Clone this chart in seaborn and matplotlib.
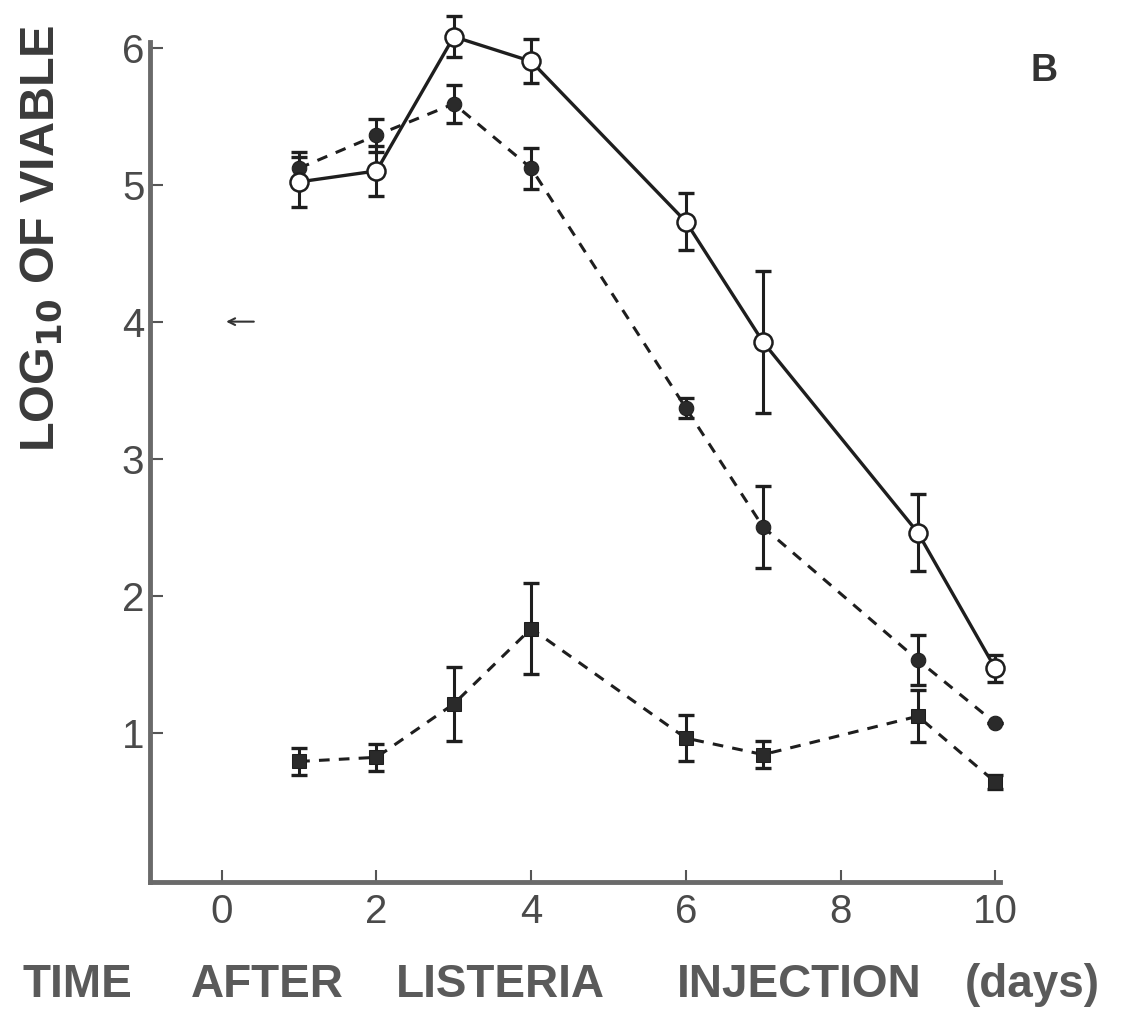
import matplotlib
matplotlib.use("Agg")
import matplotlib.pyplot as plt
import seaborn as sns
import pandas as pd
import numpy as np

days = [1, 2, 3, 4, 6, 7, 9, 10]
open_vals = [5.02, 5.10, 6.08, 5.90, 4.73, 3.85, 2.46, 1.47]
open_err = [0.18, 0.18, 0.15, 0.16, 0.21, 0.52, 0.28, 0.10]
filled_vals = [5.12, 5.36, 5.59, 5.12, 3.37, 2.50, 1.53, 1.07]
filled_err = [0.12, 0.12, 0.14, 0.15, 0.07, 0.30, 0.18, 0.0]
square_vals = [0.79, 0.82, 1.21, 1.76, 0.96, 0.84, 1.12, 0.64]
square_err = [0.10, 0.10, 0.27, 0.33, 0.17, 0.10, 0.19, 0.05]

xticks = [0, 2, 4, 6, 8, 10]
yticks = [1, 2, 3, 4, 5, 6]

sns.set_theme(style="white")
plt.rcParams['font.family'] = ['Liberation Sans', 'DejaVu Sans']

fig = plt.figure(figsize=(11.44, 10.18), dpi=100)
ax = fig.add_axes([0.131, 0.1336, 0.743, 0.825])

df = pd.DataFrame({"day": days, "open": open_vals, "filled": filled_vals, "square": square_vals})
ink = "#1e1e1e"

# error bars
for vals, errs in [(open_vals, open_err), (filled_vals, filled_err), (square_vals, square_err)]:
    eb = ax.errorbar(days, vals, yerr=errs, fmt="none", ecolor=ink, elinewidth=2.2,
                     capsize=6, capthick=2.4, zorder=2)
    for art in eb.lines[1]:
        art.set_clip_on(False)
    for art in eb.lines[2]:
        art.set_clip_on(False)

sns.lineplot(data=df, x="day", y="open", ax=ax, color=ink, linewidth=2.4,
             marker="o", markersize=13, markerfacecolor="white",
             markeredgecolor=ink, markeredgewidth=1.8, zorder=4, clip_on=False)
sns.lineplot(data=df, x="day", y="filled", ax=ax, color=ink, linewidth=2.2,
             linestyle=(0, (3.5, 3)), marker="o", markersize=10.5,
             markerfacecolor="#2a2a2a", markeredgecolor=ink, zorder=3, clip_on=False)
sns.lineplot(data=df, x="day", y="square", ax=ax, color=ink, linewidth=2.2,
             linestyle=(0, (3.5, 3)), marker="s", markersize=9.5,
             markerfacecolor="#2a2a2a", markeredgecolor=ink, zorder=3, clip_on=False)

ax.set_xlim(-0.93, 10.06)
ax.set_ylim(-0.09, 6.04)
ax.set_xticks(xticks)
ax.set_yticks(yticks)
ax.set_xticklabels([str(t) for t in xticks])
ax.set_yticklabels([str(t) for t in yticks])
ax.set_xlabel("")
ax.set_ylabel("")

for s in ["top", "right"]:
    ax.spines[s].set_visible(False)
for s in ["left", "bottom"]:
    ax.spines[s].set_color("#6a6a6a")
    ax.spines[s].set_linewidth(3.5)

ax.tick_params(axis="both", direction="in", length=9, width=1.5, color="#555555",
               labelsize=29, labelcolor="#4a4a4a")
ax.tick_params(axis="y", pad=4, left=True)
ax.tick_params(axis="x", pad=8, bottom=True)

# arrow at y=4
ax.annotate("", xy=(0.02, 4.0), xytext=(0.45, 4.0),
            arrowprops=dict(arrowstyle="->", color="#333333", lw=1.5))

# panel letter
fig.text(0.913, 0.930, "B", fontsize=27, fontweight="bold", color="#333333",
         ha="center", va="center")

# y label
fig.text(0.036, 0.766, r"LOG$_{\mathbf{10}}$ OF VIABLE", rotation=90, fontsize=35,
         fontweight="bold", color="#3a3a3a", ha="center", va="center")

# x label words
words = [("TIME", 0.068), ("AFTER", 0.234), ("LISTERIA", 0.437),
         ("INJECTION", 0.699), ("(days)", 0.902)]
for w, xp in words:
    fig.text(xp, 0.032, w, fontsize=33, fontweight="bold", color="#5a5a5a",
             ha="center", va="center")

fig.savefig("out.png", dpi=100, facecolor="white")
